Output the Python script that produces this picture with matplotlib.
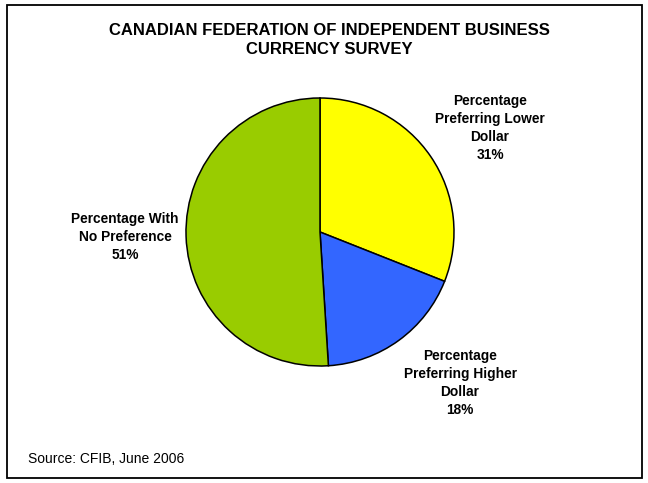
import matplotlib
matplotlib.use("Agg")
import matplotlib.pyplot as plt
from matplotlib.patches import Rectangle

plt.rcParams['font.family'] = ['Liberation Sans', 'DejaVu Sans']

title = "CANADIAN FEDERATION OF INDEPENDENT BUSINESS\nCURRENCY SURVEY"
categories = ["Percentage\nPreferring Lower\nDollar", "Percentage\nPreferring Higher\nDollar",
              "Percentage With\nNo Preference"]
values = [31, 18, 51]
colors = ["#FFFF00", "#3366FF", "#99CC00"]
source = "Source: CFIB, June 2006"

W, H = 648, 483
fig = plt.figure(figsize=(W / 100, H / 100), dpi=100)
ax = fig.add_axes([0, 0, 1, 1])

ax.pie(values, colors=colors, startangle=90, counterclock=False,
       center=(320, H - 232), radius=134,
       wedgeprops=dict(edgecolor='black', linewidth=1.1))

ax.set_xlim(0, W)
ax.set_ylim(0, H)
ax.set_aspect('equal')
ax.axis('off')

ax.add_patch(Rectangle((7, 5), 635, 473, fill=False, edgecolor='black', lw=1.3))

label_pos = [(490, H - 128), (460, H - 383), (125, H - 237)]
for cat, v, (x, y) in zip(categories, values, label_pos):
    ax.text(x, y, f"{cat}\n{v}%", ha='center', va='center', fontsize=9.9,
            fontweight='bold', linespacing=1.38)

ax.text(329, H - 40, title, ha='center', va='center', fontsize=12,
        fontweight='bold', linespacing=1.3)
ax.text(28, H - 459, source, ha='left', va='center', fontsize=10)

fig.savefig("out.png", dpi=100)
